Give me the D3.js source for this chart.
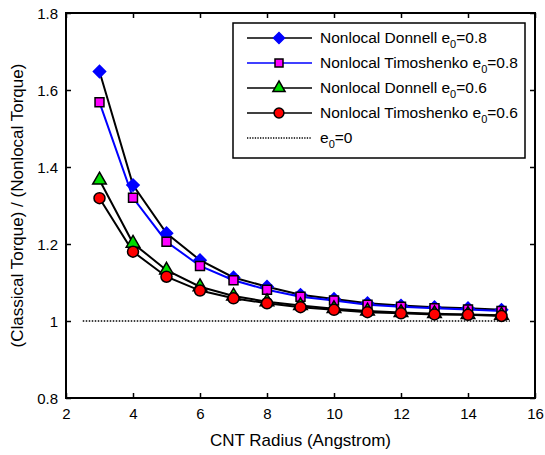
<!DOCTYPE html>
<html><head><meta charset="utf-8">
<script src="https://cdn.jsdelivr.net/npm/d3@7/dist/d3.min.js"></script>
<style>body{margin:0;background:#fff;} svg{display:block;font-family:"Liberation Sans",Arial,sans-serif;}</style>
</head><body><svg id="c" width="545" height="455"></svg>
<script>
const radius = [3,4,5,6,7,8,9,10,11,12,13,14,15];
const donnell08 = [1.648,1.353,1.228,1.158,1.113,1.089,1.068,1.057,1.046,1.040,1.036,1.033,1.029];
const timo08    = [1.568,1.320,1.206,1.143,1.106,1.081,1.063,1.053,1.042,1.037,1.033,1.030,1.026];
const donnell06 = [1.366,1.202,1.132,1.089,1.065,1.050,1.040,1.032,1.026,1.022,1.019,1.017,1.015];
const timo06    = [1.319,1.180,1.115,1.079,1.059,1.046,1.036,1.029,1.023,1.020,1.017,1.016,1.013];
const classicX = [2.5,15.25];
const classicY = [1,1];
const xTicks = [2,4,6,8,10,12,14,16];
const yTicks = [0.8,1,1.2,1.4,1.6,1.8];
const legendLabels = [["Nonlocal Donnell e","0","=0.8"],["Nonlocal Timoshenko e","0","=0.8"],["Nonlocal Donnell e","0","=0.6"],["Nonlocal Timoshenko e","0","=0.6"],["e","0","=0"]];

const svg = d3.select("#c");
const L=66,R=535,T=13,B=398;
const x = d3.scaleLinear().domain([2,16]).range([L,R]);
const y = d3.scaleLinear().domain([0.8,1.8]).range([B,T]);

const series = [
 {vals:donnell08, line:"#000", sym:d3.symbolSquare, size:75, rot:45, fill:"#0000ff", stroke:"#0000ff"},
 {vals:timo08, line:"#0000ff", sym:d3.symbolSquare, size:80, rot:0, fill:"#ff00ff", stroke:"#000"},
 {vals:donnell06, line:"#000", sym:d3.symbolTriangle, size:80, rot:0, fill:"#00dd00", stroke:"#000"},
 {vals:timo06, line:"#000", sym:d3.symbolCircle, size:95, rot:0, fill:"#ff0000", stroke:"#000"}
];

// frame
svg.append("rect").attr("x",L).attr("y",T).attr("width",R-L).attr("height",B-T).attr("fill","none").attr("stroke","#000").attr("stroke-width",2);

// axes ticks inward
const gx = svg.append("g").attr("transform",`translate(0,${B})`).call(d3.axisBottom(x).tickValues(xTicks).tickSize(-5).tickPadding(10).tickFormat(d3.format("d")));
const gxt = svg.append("g").attr("transform",`translate(0,${T})`).call(d3.axisTop(x).tickValues(xTicks).tickSize(-5).tickFormat(""));
const gy = svg.append("g").attr("transform",`translate(${L},0)`).call(d3.axisLeft(y).tickValues(yTicks).tickSize(-5).tickPadding(8).tickFormat(d=>d3.format("")(+d.toFixed(1))));
const gyr = svg.append("g").attr("transform",`translate(${R},0)`).call(d3.axisRight(y).tickValues(yTicks).tickSize(-5).tickFormat(""));
[gx,gxt,gy,gyr].forEach(g=>{g.select(".domain").remove();g.selectAll(".tick line").attr("stroke","#000").attr("stroke-width",1.5);g.selectAll("text").attr("font-size",15).attr("fill","#000").attr("font-family","Liberation Sans, Arial, sans-serif");});
gy.selectAll("text").attr("dy","0.35em");

// dotted baseline
svg.append("path").attr("d",d3.line().x(d=>x(d[0])).y(d=>y(d[1]))(d3.zip(classicX,classicY)))
  .attr("stroke","#000").attr("stroke-width",1.6).attr("stroke-dasharray","1.5,1.5").attr("fill","none");

const line = d3.line().x(d=>x(d[0])).y(d=>y(d[1]));
series.forEach(s=>{
  const pts = d3.zip(radius,s.vals);
  svg.append("path").attr("d",line(pts)).attr("stroke",s.line).attr("stroke-width",2).attr("fill","none");
});
series.forEach(s=>{
  const pts = d3.zip(radius,s.vals);
  svg.append("g").selectAll("path").data(pts).join("path")
    .attr("transform",d=>`translate(${x(d[0])},${y(d[1])}) rotate(${s.rot})`)
    .attr("d",d3.symbol().type(s.sym).size(s.size)())
    .attr("fill",s.fill).attr("stroke",s.stroke).attr("stroke-width",1.5);
});

// legend
const lg = svg.append("g");
lg.append("rect").attr("x",233).attr("y",23).attr("width",292).attr("height",135).attr("fill","#fff").attr("stroke","#000").attr("stroke-width",1.5);
legendLabels.forEach((lab,i)=>{
  const cy = 38 + i*25;
  if(i<4){
    const s=series[i];
    lg.append("line").attr("x1",247).attr("x2",312).attr("y1",cy).attr("y2",cy).attr("stroke",s.line).attr("stroke-width",1.5);
    lg.append("path").attr("transform",`translate(279,${cy}) rotate(${s.rot})`).attr("d",d3.symbol().type(s.sym).size(s.size*0.8)()).attr("fill",s.fill).attr("stroke",s.stroke).attr("stroke-width",1.5);
  } else {
    lg.append("line").attr("x1",247).attr("x2",312).attr("y1",cy).attr("y2",cy).attr("stroke","#000").attr("stroke-width",1.4).attr("stroke-dasharray","1.3,1.3");
  }
  const t = lg.append("text").attr("x",320).attr("y",cy+5).attr("font-size",15.5).attr("fill","#000");
  t.append("tspan").text(lab[0]);
  t.append("tspan").attr("font-size",11).attr("dy",5).text(lab[1]);
  t.append("tspan").attr("dy",-5).text(lab[2]);
});

// axis labels
svg.append("text").attr("x",(L+R)/2).attr("y",446).attr("text-anchor","middle").attr("font-size",17).attr("fill","#000").text("CNT Radius (Angstrom)");
svg.append("text").attr("transform",`translate(23,${(T+B)/2}) rotate(-90)`).attr("text-anchor","middle").attr("font-size",17).attr("fill","#000").text("(Classical Torque) / (Nonlocal Torque)");
</script></body></html>
